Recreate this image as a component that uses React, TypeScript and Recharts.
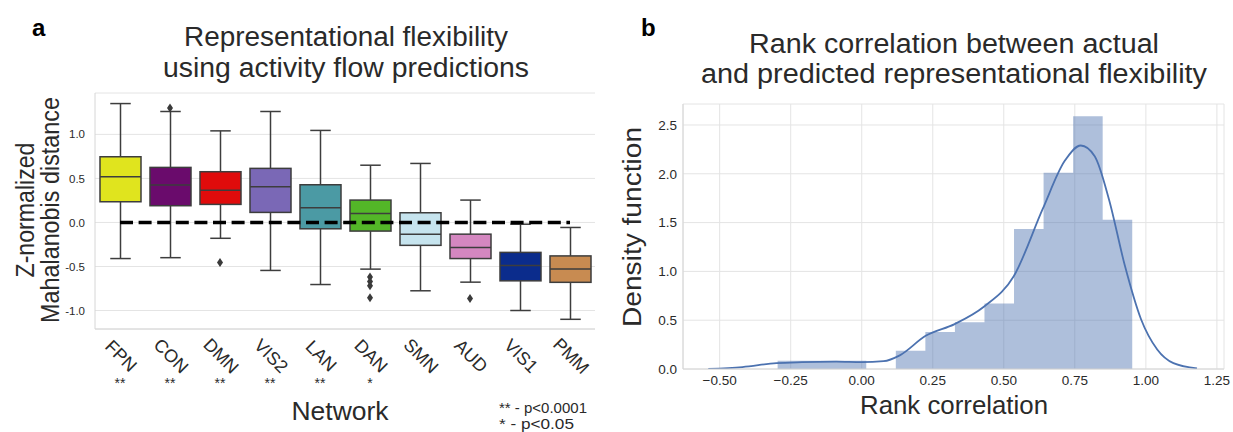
import React from "react";
import {
  ComposedChart,
  Bar,
  Scatter,
  Area,
  Line,
  XAxis,
  YAxis,
  CartesianGrid,
  ReferenceLine,
} from "recharts";

// panel a: boxplots per network
const networks = ["FPN", "CON", "DMN", "VIS2", "LAN", "DAN", "SMN", "AUD", "VIS1", "PMM"];
const significance = ["**", "**", "**", "**", "**", "*", "", "", "", ""];
const boxColors = ["#e0e41e", "#6a0b6c", "#e00b0b", "#7a68b6", "#4b9aa4", "#53b628", "#c6e4ee", "#d487c0", "#0b2c8c", "#c88b51"];
const whiskerLow = [-0.41, -0.4, -0.18, -0.545, -0.705, -0.53, -0.776, -0.678, -1.0, -1.1];
const quartile1 = [0.235, 0.19, 0.205, 0.114, -0.072, -0.098, -0.26, -0.41, -0.663, -0.68];
const medians = [0.52, 0.424, 0.367, 0.405, 0.167, 0.102, -0.133, -0.284, -0.49, -0.53];
const quartile3 = [0.746, 0.625, 0.576, 0.614, 0.428, 0.254, 0.11, -0.133, -0.34, -0.38];
const whiskerHigh = [1.35, 1.26, 1.04, 1.26, 1.045, 0.65, 0.67, 0.254, -0.02, -0.057];
const outlierNetwork = ["CON", "DMN", "DAN", "DAN", "DAN", "DAN", "AUD"];
const outlierValue = [1.3, -0.455, -0.62, -0.67, -0.72, -0.855, -0.864];
const distanceTicks = [-1, -0.5, 0, 0.5, 1];
const distanceDomain = [-1.21, 1.47];

// panel b: histogram + kde of rank correlations
const binEdges = [-0.296, -0.192, -0.088, 0.016, 0.12, 0.224, 0.328, 0.432, 0.536, 0.64, 0.744, 0.848, 0.952];
const binDensity = [0.085, 0.085, 0.085, 0, 0.188, 0.38, 0.48, 0.67, 1.435, 2.01, 2.59, 1.53];
const kdeX = [-0.54, -0.42, -0.3, -0.21, -0.09, 0.0, 0.077, 0.134, 0.225, 0.327, 0.431, 0.535, 0.637, 0.714, 0.771, 0.82, 0.87, 0.926, 0.983, 1.04, 1.097, 1.18];
const kdeY = [0.0, 0.02, 0.06, 0.07, 0.075, 0.07, 0.08, 0.14, 0.34, 0.46, 0.64, 0.95, 1.64, 2.13, 2.29, 2.18, 1.74, 1.06, 0.51, 0.2, 0.06, 0.007];
const rankTicks = [-0.5, -0.25, 0, 0.25, 0.5, 0.75, 1, 1.25];
const densityTicks = [0, 0.5, 1, 1.5, 2, 2.5];
const rankDomain = [-0.629, 1.275];
const densityDomain = [0, 2.715];

const FONT = "'Liberation Sans', Arial, sans-serif";
const FRAME = "#d6d6d6";
const GRID = "#e4e4e4";
const TEXT = "#2a2a2a";

const boxData = networks.map((name, i) => ({
  name,
  lo: whiskerLow[i],
  q1: quartile1[i],
  median: medians[i],
  q3: quartile3[i],
  hi: whiskerHigh[i],
  color: boxColors[i],
}));

const outliers = outlierNetwork.map((name, i) => ({ name, value: outlierValue[i] }));

const histData = binEdges.map((x, i) => ({ x, y: i < binDensity.length ? binDensity[i] : 0 }));
const kdeData = kdeX.map((x, i) => ({ x, y: kdeY[i] }));

function formatRank(v: number): string {
  return (v < 0 ? "\u2212" : "") + Math.abs(v).toFixed(2);
}

function BoxShape(props: any) {
  const { x, y, width, height, payload } = props;
  const top = Math.min(y, y + height);
  const h = Math.abs(height);
  const unit = h / (payload.q3 - payload.q1);
  const cx = x + width / 2;
  const hiY = top - (payload.hi - payload.q3) * unit;
  const loY = top + h + (payload.q1 - payload.lo) * unit;
  const medY = top + (payload.q3 - payload.median) * unit;
  const cap = width / 4;
  return (
    <g stroke="#3d3d3d" strokeWidth={1.5}>
      <line x1={cx} x2={cx} y1={hiY} y2={top} />
      <line x1={cx} x2={cx} y1={top + h} y2={loY} />
      <line x1={cx - cap} x2={cx + cap} y1={hiY} y2={hiY} />
      <line x1={cx - cap} x2={cx + cap} y1={loY} y2={loY} />
      <rect x={x} y={top} width={width} height={h} fill={payload.color} />
      <line x1={x} x2={x + width} y1={medY} y2={medY} />
    </g>
  );
}

function Diamond(props: any) {
  const { cx, cy } = props;
  if (cx == null || cy == null) return null;
  return (
    <polygon
      points={`${cx},${cy - 4.5} ${cx + 3},${cy} ${cx},${cy + 4.5} ${cx - 3},${cy}`}
      fill="#3a3a3a"
    />
  );
}

function NetworkTick(props: any) {
  const { x, y, payload } = props;
  const i = networks.indexOf(payload.value);
  return (
    <g transform={`translate(${x},${y})`}>
      <text
        transform="translate(1,27) rotate(45)"
        textAnchor="middle"
        dominantBaseline="central"
        fontSize={18}
        fontFamily={FONT}
        fill={TEXT}
      >
        {payload.value}
      </text>
      <text x={0} y={59} textAnchor="middle" fontSize={14} fontFamily={FONT} fill={TEXT}>
        {significance[i]}
      </text>
    </g>
  );
}

function FlexibilityChart() {
  return (
    <ComposedChart
      width={620}
      height={432}
      data={boxData}
      margin={{ top: 93, right: 25, bottom: 43, left: 0 }}
    >
      <CartesianGrid vertical={false} stroke={GRID} />
      <XAxis
        dataKey="name"
        type="category"
        allowDuplicatedCategory={false}
        height={60}
        tickSize={0}
        tickMargin={0}
        tickLine={false}
        axisLine={{ stroke: FRAME }}
        tick={<NetworkTick />}
        interval={0}
      />
      <XAxis xAxisId="top" orientation="top" height={0} tick={false} tickLine={false} axisLine={{ stroke: FRAME }} />
      <YAxis
        type="number"
        domain={distanceDomain}
        ticks={distanceTicks}
        allowDataOverflow
        width={95}
        tickSize={6}
        tickMargin={4}
        tickLine={false}
        axisLine={{ stroke: FRAME }}
        tickFormatter={(v: number) => v.toFixed(1)}
        tick={{ fontSize: 11.5, fill: TEXT, fontFamily: FONT }}
      />
      <YAxis yAxisId="right" orientation="right" width={0} domain={[0, 1]} tick={false} tickLine={false} axisLine={{ stroke: FRAME }} />
      <Bar
        dataKey={(d: any) => [d.q1, d.q3]}
        barSize={41}
        shape={<BoxShape />}
        isAnimationActive={false}
      />
      <Scatter data={outliers} dataKey="value" shape={<Diamond />} isAnimationActive={false} />
      <ReferenceLine
        segment={[
          { x: networks[0], y: 0 },
          { x: networks[networks.length - 1], y: 0 },
        ]}
        stroke="#000"
        strokeWidth={3.5}
        strokeDasharray="13 5.6"
      />
    </ComposedChart>
  );
}

function RankChart() {
  return (
    <ComposedChart width={633} height={432} margin={{ top: 104, right: 9, bottom: 23, left: 0 }}>
      <CartesianGrid stroke={GRID} />
      <XAxis
        dataKey="x"
        type="number"
        domain={rankDomain}
        ticks={rankTicks}
        allowDataOverflow
        height={40}
        tickSize={6}
        tickMargin={0}
        tickLine={false}
        axisLine={{ stroke: FRAME }}
        tickFormatter={formatRank}
        tick={{ fontSize: 13.5, fill: TEXT, fontFamily: FONT }}
      />
      <XAxis xAxisId="top" orientation="top" type="number" domain={[0, 1]} height={0} tick={false} tickLine={false} axisLine={{ stroke: FRAME }} />
      <YAxis
        type="number"
        domain={densityDomain}
        ticks={densityTicks}
        allowDataOverflow
        width={83}
        tickSize={6}
        tickMargin={0}
        tickLine={false}
        axisLine={{ stroke: FRAME }}
        tickFormatter={(v: number) => v.toFixed(1)}
        tick={{ fontSize: 13.5, fill: TEXT, fontFamily: FONT }}
      />
      <YAxis yAxisId="right" orientation="right" width={0} domain={[0, 1]} tick={false} tickLine={false} axisLine={{ stroke: FRAME }} />
      <Area
        data={histData}
        dataKey="y"
        type="stepAfter"
        fill="#4c72b0"
        fillOpacity={0.45}
        stroke="none"
        isAnimationActive={false}
      />
      <Line
        data={kdeData}
        dataKey="y"
        type="monotone"
        stroke="#4c72b0"
        strokeWidth={1.8}
        dot={false}
        isAnimationActive={false}
      />
    </ComposedChart>
  );
}

function Annotations() {
  const t = { fontFamily: FONT, fill: TEXT } as const;
  return (
    <svg
      width={1233}
      height={432}
      style={{ position: "absolute", left: 0, top: 0, pointerEvents: "none" }}
    >
      <text x={32} y={36} fontSize={24} fontWeight="bold" {...t} fill="#000">a</text>
      <text x={641} y={36} fontSize={24} fontWeight="bold" {...t} fill="#000">b</text>

      <text x={346} y={46} fontSize={27} textAnchor="middle" textLength={324} lengthAdjust="spacingAndGlyphs" {...t}>
        Representational flexibility
      </text>
      <text x={346} y={77} fontSize={27} textAnchor="middle" textLength={366} lengthAdjust="spacingAndGlyphs" {...t}>
        using activity flow predictions
      </text>
      <text x={954} y={53} fontSize={27} textAnchor="middle" textLength={410} lengthAdjust="spacingAndGlyphs" {...t}>
        Rank correlation between actual
      </text>
      <text x={954} y={83} fontSize={27} textAnchor="middle" textLength={506} lengthAdjust="spacingAndGlyphs" {...t}>
        and predicted representational flexibility
      </text>

      <text transform="translate(34,210) rotate(-90)" fontSize={26} textAnchor="middle" textLength={135} lengthAdjust="spacingAndGlyphs" {...t}>
        Z-normalized
      </text>
      <text transform="translate(58.5,210) rotate(-90)" fontSize={26} textAnchor="middle" textLength={226} lengthAdjust="spacingAndGlyphs" {...t}>
        Mahalanobis distance
      </text>
      <text x={340} y={420} fontSize={26} textAnchor="middle" textLength={97} lengthAdjust="spacingAndGlyphs" {...t}>
        Network
      </text>
      <text x={499} y={413} fontSize={14.5} textLength={88} lengthAdjust="spacingAndGlyphs" {...t}>
        ** - p&lt;0.0001
      </text>
      <text x={499} y={429} fontSize={14.5} textLength={75} lengthAdjust="spacingAndGlyphs" {...t}>
        * - p&lt;0.05
      </text>

      <text transform="translate(641,227) rotate(-90)" fontSize={26} textAnchor="middle" textLength={200} lengthAdjust="spacingAndGlyphs" {...t}>
        Density function
      </text>
      <text x={954} y={414} fontSize={26} textAnchor="middle" textLength={188} lengthAdjust="spacingAndGlyphs" {...t}>
        Rank correlation
      </text>
    </svg>
  );
}

export default function App() {
  return (
    <div
      style={{
        position: "absolute",
        left: 0,
        top: 0,
        width: 1233,
        height: 432,
        background: "#fff",
        fontFamily: FONT,
      }}
    >
      <div style={{ position: "absolute", left: 0, top: 0 }}>
        <FlexibilityChart />
      </div>
      <div style={{ position: "absolute", left: 600, top: 0 }}>
        <RankChart />
      </div>
      <Annotations />
    </div>
  );
}
